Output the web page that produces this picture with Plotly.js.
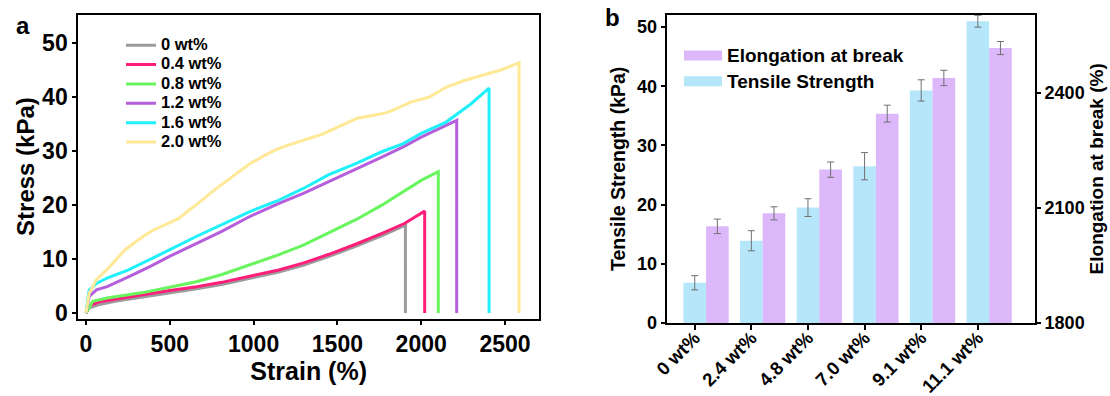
<!DOCTYPE html>
<html><head><meta charset="utf-8">
<script src="https://cdn.plot.ly/plotly-3.0.1.min.js"></script>
<style>html,body{margin:0;padding:0;background:#fff}</style>
</head><body>
<div id="chart" style="width:1110px;height:396px"></div>
<script>
const FONT = 'Liberation Sans, Arial, Helvetica, sans-serif';

// ---- Panel a: stress-strain curves ----
const seriesNames = ['0 wt%', '0.4 wt%', '0.8 wt%', '1.2 wt%', '1.6 wt%', '2.0 wt%'];
const seriesColors = ['#9c9c9c', '#ff1f7a', '#68f55e', '#b55fdc', '#1ff0fb', '#ffe896'];

const strain_00 = [0, 20, 80, 190, 340, 500, 660, 810, 980, 1150, 1300, 1450, 1620, 1770, 1906, 1906];
const stress_00 = [0, 1.0, 1.6, 2.3, 3.0, 3.7, 4.5, 5.3, 6.4, 7.6, 8.9, 10.5, 12.5, 14.4, 16.3, 0];

const strain_04 = [0, 20, 80, 190, 340, 500, 660, 810, 980, 1150, 1300, 1450, 1620, 1770, 1900, 2021, 2021];
const stress_04 = [0, 1.4, 2.1, 2.7, 3.4, 4.2, 4.9, 5.7, 6.9, 8.0, 9.3, 10.9, 12.9, 14.8, 16.6, 18.9, 0];

const strain_08 = [0, 40, 126, 339, 498, 658, 807, 977, 1148, 1297, 1446, 1616, 1765, 1893, 2000, 2102, 2102];
const stress_08 = [0, 2.2, 2.8, 3.8, 4.8, 5.8, 7.1, 8.9, 10.8, 12.6, 14.8, 17.4, 20.0, 22.5, 24.6, 26.2, 0];

const strain_12 = [0, 19, 62, 126, 253, 381, 498, 658, 807, 977, 1148, 1297, 1446, 1616, 1765, 1893, 2000, 2212, 2212];
const stress_12 = [0, 3.1, 4.3, 4.9, 6.7, 8.6, 10.5, 12.9, 15.1, 17.9, 20.3, 22.2, 24.3, 26.8, 28.9, 30.8, 32.6, 35.7, 0];

const strain_16 = [0, 19, 62, 126, 253, 381, 498, 658, 807, 977, 1148, 1297, 1446, 1616, 1765, 1893, 2000, 2149, 2298, 2405, 2405];
const stress_16 = [0, 4.3, 5.5, 6.5, 8.0, 9.9, 11.7, 14.2, 16.3, 18.8, 20.9, 23.1, 25.6, 27.8, 29.9, 31.4, 33.3, 35.4, 38.8, 41.7, 0];

const strain_20 = [0, 19, 62, 126, 232, 339, 403, 488, 552, 616, 680, 765, 872, 979, 1064, 1128, 1192, 1299, 1405, 1512, 1576, 1618, 1725, 1789, 1832, 1938, 2045, 2151, 2257, 2364, 2470, 2584, 2584];
const stress_20 = [0, 3.7, 6.2, 8.1, 11.7, 14.2, 15.4, 16.6, 17.5, 19.1, 20.6, 22.8, 25.2, 27.7, 29.2, 30.2, 31.0, 32.0, 33.1, 34.6, 35.5, 36.1, 36.7, 37.1, 37.6, 39.1, 40.0, 41.9, 43.1, 44.0, 45.0, 46.4, 0];

const strainTicks = [0, 500, 1000, 1500, 2000, 2500];
const stressTicks = [0, 10, 20, 30, 40, 50];

// ---- Panel b: bars ----
const samples = ['0 wt%', '2.4 wt%', '4.8 wt%', '7.0 wt%', '9.1 wt%', '11.1 wt%'];
const tensileStrength = [6.8, 13.9, 19.5, 26.5, 39.3, 51.0];
const tensileErr = [1.2, 1.7, 1.5, 2.3, 1.8, 1.0];
const elongation = [2052, 2086, 2200, 2346, 2439, 2517];
const elongationErr = [19, 17, 20, 22, 20, 17];
const strengthTicks = [0, 10, 20, 30, 40, 50];
const elongationTicks = [1800, 2100, 2400];

const barCyan = '#b5e6fa';
const barPurple = '#dcb8fb';

const strains = [strain_00, strain_04, strain_08, strain_12, strain_16, strain_20];
const stresses = [stress_00, stress_04, stress_08, stress_12, stress_16, stress_20];

const W = 1110, H = 396;
const px = v => v / W;
const py = v => 1 - v / H;

const traces = [];
seriesNames.forEach((n, i) => {
  traces.push({
    x: strains[i], y: stresses[i], type: 'scatter', mode: 'lines',
    name: '<span style="font-size:16.5px">' + n + '</span>',
    line: {color: seriesColors[i], width: 3},
    xaxis: 'x', yaxis: 'y', legend: 'legend'
  });
});

traces.push({
  x: samples, y: tensileStrength, type: 'bar', name: 'Tensile Strength',
  marker: {color: barCyan}, width: 0.4, offset: -0.2,
  error_y: {type: 'data', array: tensileErr, color: '#707070', thickness: 1, width: 3.5},
  xaxis: 'x2', yaxis: 'y2', showlegend: false
});
traces.push({
  x: samples, y: elongation, type: 'bar', name: 'Elongation at break',
  marker: {color: barPurple}, width: 0.4, offset: 0.2,
  error_y: {type: 'data', array: elongationErr, color: '#707070', thickness: 1, width: 3.5},
  xaxis: 'x2', yaxis: 'y3', showlegend: false
});
// legend keys for panel b
traces.push({
  x: [samples[0]], y: [null], type: 'scatter', mode: 'lines',
  name: '<span style="font-size:19px">Elongation at break</span>',
  line: {color: barPurple, width: 14}, xaxis: 'x2', yaxis: 'y3', legend: 'legend2', hoverinfo: 'skip'
});
traces.push({
  x: [samples[0]], y: [null], type: 'scatter', mode: 'lines',
  name: '<span style="font-size:19px">Tensile Strength</span>',
  line: {color: barCyan, width: 14}, xaxis: 'x2', yaxis: 'y2', legend: 'legend2', hoverinfo: 'skip'
});

const axBase = {
  showgrid: false, zeroline: false, linecolor: '#000', linewidth: 2,
  ticks: 'outside', tickcolor: '#000', tickwidth: 2, ticklen: 4
};

const layout = {
  width: W, height: H,
  margin: {l: 0, r: 0, t: 0, b: 0},
  paper_bgcolor: '#fff', plot_bgcolor: '#fff',
  font: {family: FONT, color: '#000'},
  showlegend: true,
  barmode: 'overlay',
  xaxis: Object.assign({}, axBase, {
    domain: [px(78.3), px(539)], range: [-46, 2703], anchor: 'y',
    tickvals: strainTicks, mirror: true,
    tickfont: {size: 23, weight: 'bold'},
    title: {text: 'Strain (%)', font: {size: 25, weight: 'bold'}, standoff: 0}
  }),
  yaxis: Object.assign({}, axBase, {
    domain: [py(318.5), py(14.7)], range: [-1, 55.3], anchor: 'x',
    tickvals: stressTicks, mirror: true,
    tickfont: {size: 23, weight: 'bold'},
    title: {text: 'Stress (kPa)', font: {size: 24, weight: 'bold'}, standoff: 1}
  }),
  xaxis2: Object.assign({}, axBase, {
    domain: [px(666.7), px(1035)], type: 'category', range: [-0.495, 6.01], anchor: 'y2',
    mirror: true, ticklen: 5, tickangle: -45, ticklabelstandoff: -10,
    tickfont: {size: 18.5, weight: 'bold'}
  }),
  yaxis2: Object.assign({}, axBase, {
    domain: [py(323), py(14.7)], range: [0, 52.1], anchor: 'x2', side: 'left',
    tickvals: strengthTicks,
    tickfont: {size: 18, weight: 'bold'},
    title: {text: 'Tensile Strength (kPa)', font: {size: 19.5, weight: 'bold'}, standoff: 6}
  }),
  yaxis3: Object.assign({}, axBase, {
    overlaying: 'y2', side: 'right', anchor: 'x2', range: [1800, 2604],
    tickvals: elongationTicks,
    tickfont: {size: 18, weight: 'bold'},
    title: {text: 'Elongation at break (%)', font: {size: 19, weight: 'bold'}, standoff: 6}
  }),
  legend: {
    x: px(121), y: py(30.5), xanchor: 'left', yanchor: 'top',
    bgcolor: 'rgba(0,0,0,0)', borderwidth: 0,
    font: {size: 12.6, weight: 'bold', family: FONT}
  },
  legend2: {
    x: px(679), y: py(37.5), xanchor: 'left', yanchor: 'top',
    bgcolor: 'rgba(0,0,0,0)', borderwidth: 0, itemwidth: 38,
    font: {size: 17.5, weight: 'bold', family: FONT}
  },
  annotations: [
    {text: 'a', x: px(23), y: py(25), xref: 'paper', yref: 'paper', showarrow: false,
     xanchor: 'center', yanchor: 'middle', font: {size: 24, weight: 'bold'}},
    {text: 'b', x: px(612), y: py(18), xref: 'paper', yref: 'paper', showarrow: false,
     xanchor: 'center', yanchor: 'middle', font: {size: 24, weight: 'bold'}}
  ]
};

Plotly.newPlot('chart', traces, layout, {displayModeBar: false, staticPlot: true});
</script>
</body></html>
